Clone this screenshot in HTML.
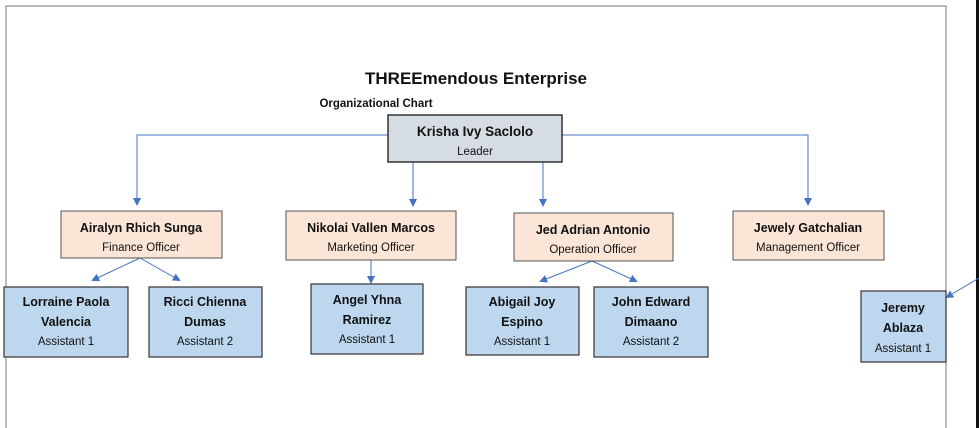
<!DOCTYPE html>
<html><head><meta charset="utf-8"><style>
html,body{margin:0;padding:0;background:#fff}
svg{display:block}
text{font-family:"Liberation Sans",sans-serif;text-anchor:middle;fill:#111}
.n{font-weight:bold;font-size:12.5px}
.r{font-size:11.5px}
</style></head><body>
<svg width="979" height="428" viewBox="0 0 979 428" xmlns="http://www.w3.org/2000/svg">
<defs><marker id="a" markerWidth="8" markerHeight="8" refX="6" refY="4" orient="auto" markerUnits="userSpaceOnUse"><path d="M0,0 L8,4 L0,8 z" fill="#4472c4"/></marker></defs>
<rect x="976" y="0" width="3" height="428" fill="#111"/>
<path d="M6,428 V6 H946 V428" fill="none" stroke="#777" stroke-width="1"/>
<text x="476" y="84" style="font-weight:bold;font-size:17px">THREEmendous Enterprise</text>
<text x="376" y="107" style="font-weight:bold;font-size:11.5px">Organizational Chart</text>
<g stroke="#4472c4" stroke-width="1" fill="none">
<path d="M388,135 H137 V204" marker-end="url(#a)"/>
<path d="M562,135 H808 V204" marker-end="url(#a)"/>
<path d="M413,162 V205" marker-end="url(#a)"/>
<path d="M543,162 V205" marker-end="url(#a)"/>
<path d="M140,258 L93,280" marker-end="url(#a)"/>
<path d="M140,258 L179,280" marker-end="url(#a)"/>
<path d="M371,260 V282" marker-end="url(#a)"/>
<path d="M592,261 L541,281" marker-end="url(#a)"/>
<path d="M592,261 L636,281" marker-end="url(#a)"/>
<path d="M979,278 L947,297" marker-end="url(#a)"/>
</g>
<rect x="388" y="115" width="174" height="47" fill="#d6dce4" stroke="#333" stroke-width="1.5"/>
<text class="n" x="475" y="136" style="font-size:13.5px">Krisha Ivy Saclolo</text>
<text class="r" x="475" y="155">Leader</text>
<g fill="#fbe5d6" stroke="#555" stroke-width="1">
<rect x="61" y="211" width="161" height="47"/>
<rect x="286" y="211" width="170" height="49"/>
<rect x="514" y="213" width="159" height="48"/>
<rect x="733" y="211" width="151" height="49"/>
</g>
<text class="n" x="141" y="232">Airalyn Rhich Sunga</text><text class="r" x="141" y="251">Finance Officer</text>
<text class="n" x="371" y="232">Nikolai Vallen Marcos</text><text class="r" x="371" y="251">Marketing Officer</text>
<text class="n" x="593" y="234">Jed Adrian Antonio</text><text class="r" x="593" y="253">Operation Officer</text>
<text class="n" x="808" y="232">Jewely Gatchalian</text><text class="r" x="808" y="251">Management Officer</text>
<g fill="#bdd7ee" stroke="#333" stroke-width="1.2">
<rect x="4" y="287" width="124" height="70"/>
<rect x="149" y="287" width="113" height="70"/>
<rect x="311" y="284" width="112" height="70"/>
<rect x="466" y="287" width="113" height="68"/>
<rect x="594" y="287" width="114" height="70"/>
<rect x="861" y="291" width="85" height="71"/>
</g>
<text class="n" x="66" y="306">Lorraine Paola</text><text class="n" x="66" y="326">Valencia</text><text class="r" x="66" y="345">Assistant 1</text>
<text class="n" x="205" y="306">Ricci Chienna</text><text class="n" x="205" y="326">Dumas</text><text class="r" x="205" y="345">Assistant 2</text>
<text class="n" x="367" y="304">Angel Yhna</text><text class="n" x="367" y="324">Ramirez</text><text class="r" x="367" y="343">Assistant 1</text>
<text class="n" x="522" y="306">Abigail Joy</text><text class="n" x="522" y="326">Espino</text><text class="r" x="522" y="345">Assistant 1</text>
<text class="n" x="651" y="306">John Edward</text><text class="n" x="651" y="326">Dimaano</text><text class="r" x="651" y="345">Assistant 2</text>
<text class="n" x="903" y="312">Jeremy</text><text class="n" x="903" y="332">Ablaza</text><text class="r" x="903" y="352">Assistant 1</text>
</svg>
</body></html>
